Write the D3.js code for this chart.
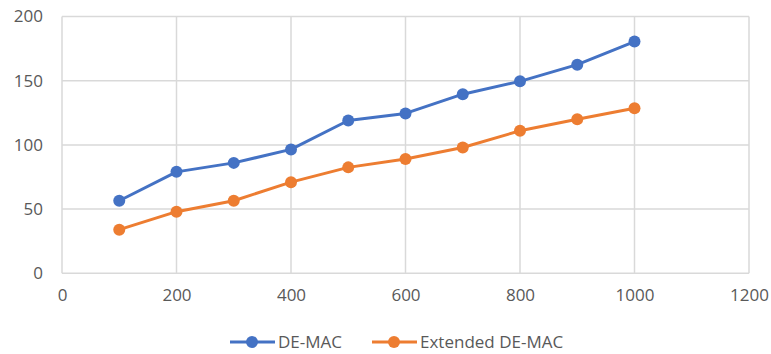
<!DOCTYPE html>
<html>
<head>
<meta charset="utf-8">
<script src="https://cdn.jsdelivr.net/npm/d3@7"></script>
<style>
  html, body { margin: 0; padding: 0; background: #fff; }
  svg { display: block; }
  text { font-family: "Open Sans", "Liberation Sans", sans-serif; fill: #595959; }
</style>
</head>
<body>
<script>
// Message counts per series
const xValues = [100, 200, 300, 400, 500, 600, 700, 800, 900, 1000];
const deMac = [56.5, 79, 86, 96.5, 119, 124.5, 139.5, 149.5, 162.5, 180.5];
const extendedDeMac = [34, 48, 56.5, 71, 82.5, 89, 98, 111, 120, 128.5];
const seriesNames = ["DE-MAC", "Extended DE-MAC"];
const seriesColors = ["#4472C4", "#ED7D31"];
const xTicks = [0, 200, 400, 600, 800, 1000, 1200];
const yTicks = [0, 50, 100, 150, 200];

const width = 771, height = 354;
const plot = { left: 62, right: 749, top: 16.5, bottom: 273.3 };

const svg = d3.select("body").append("svg")
  .attr("width", width).attr("height", height);

const x = d3.scaleLinear().domain([0, 1200]).range([plot.left, plot.right]);
const y = d3.scaleLinear().domain([0, 200]).range([plot.bottom, plot.top]);

// Grid
const grid = svg.append("g").attr("stroke", "#d9d9d9").attr("stroke-width", 1.5);
grid.selectAll("line.h").data(yTicks).join("line")
  .attr("x1", plot.left).attr("x2", plot.right)
  .attr("y1", d => y(d)).attr("y2", d => y(d));
grid.selectAll("line.v").data(xTicks).join("line")
  .attr("y1", plot.top).attr("y2", plot.bottom)
  .attr("x1", d => x(d)).attr("x2", d => x(d));

// Axis labels
const fmt = d3.format("d");
const yAxis = svg.append("g").attr("transform", `translate(${plot.left},0)`)
  .call(d3.axisLeft(y).tickValues(yTicks).tickFormat(fmt).tickSize(0).tickPadding(19));
const xAxis = svg.append("g").attr("transform", `translate(0,${plot.bottom})`)
  .call(d3.axisBottom(x).tickValues(xTicks).tickFormat(fmt).tickSize(0).tickPadding(16));
[yAxis, xAxis].forEach(a => {
  a.select(".domain").remove();
  a.selectAll("text").attr("font-size", 17).attr("fill", "#595959")
    .attr("font-family", "'Open Sans', 'Liberation Sans', sans-serif");
});

// Series
const series = [deMac, extendedDeMac];
const line = d3.line().x((d, i) => x(xValues[i])).y(d => y(d));
series.forEach((vals, s) => {
  const g = svg.append("g");
  g.append("path").datum(vals)
    .attr("fill", "none").attr("stroke", seriesColors[s])
    .attr("stroke-width", 3).attr("stroke-linejoin", "round")
    .attr("d", line);
  g.selectAll("circle").data(vals).join("circle")
    .attr("cx", (d, i) => x(xValues[i])).attr("cy", d => y(d))
    .attr("r", 6).attr("fill", seriesColors[s]);
});

// Legend
const legendY = 342;
const legendItems = [{ x: 230 }, { x: 372 }];
legendItems.forEach((item, s) => {
  const g = svg.append("g").attr("transform", `translate(${item.x},${legendY})`);
  g.append("line").attr("x1", 0).attr("x2", 45).attr("y1", 0).attr("y2", 0)
    .attr("stroke", seriesColors[s]).attr("stroke-width", 3);
  g.append("circle").attr("cx", 22).attr("cy", 0).attr("r", 6).attr("fill", seriesColors[s]);
  g.append("text").attr("x", 48).attr("y", 0).attr("dy", "0.35em")
    .attr("font-size", 17).text(seriesNames[s]);
});
</script>
</body>
</html>
